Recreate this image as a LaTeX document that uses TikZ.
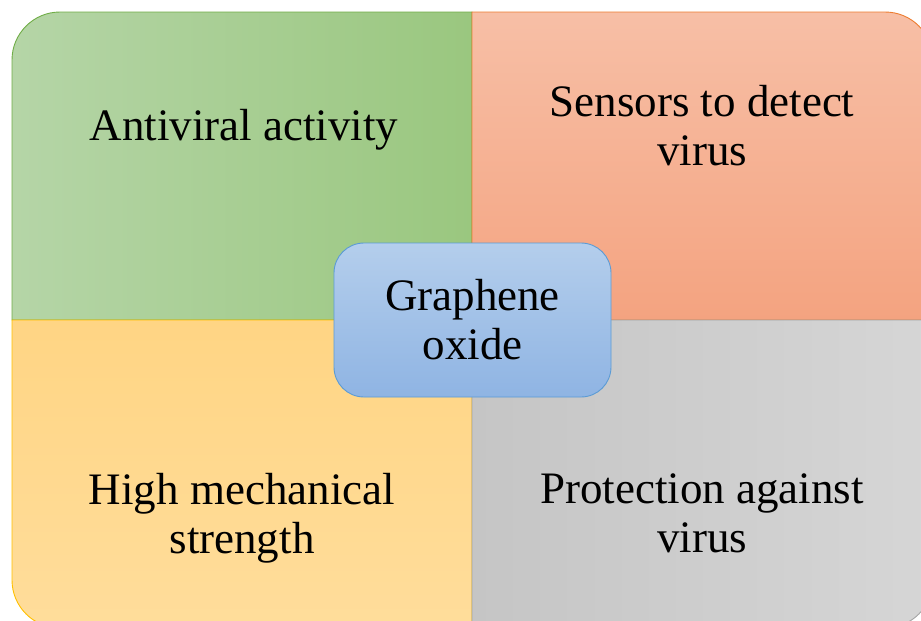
\documentclass[tikz,border=0pt]{standalone}
\usepackage{fontspec}
\setmainfont{Liberation Serif}
\definecolor{gA}{RGB}{181,213,167}
\definecolor{gB}{RGB}{154,199,127}
\definecolor{gD}{RGB}{112,173,71}
\definecolor{oA}{RGB}{247,191,166}
\definecolor{oB}{RGB}{244,163,128}
\definecolor{oD}{RGB}{237,125,49}
\definecolor{yA}{RGB}{255,213,132}
\definecolor{yB}{RGB}{255,221,155}
\definecolor{yD}{RGB}{255,192,0}
\definecolor{sA}{RGB}{197,197,197}
\definecolor{sB}{RGB}{214,214,214}
\definecolor{sD}{RGB}{165,165,165}
\definecolor{bA}{RGB}{180,206,236}
\definecolor{bB}{RGB}{143,180,227}
\definecolor{bD}{RGB}{91,155,213}
\begin{document}
\begin{tikzpicture}[x=1pt,y=1pt,
  lbl/.style={font=\fontsize{45}{49}\selectfont, align=center, inner sep=0pt, text=black},
  quad/.style={line width=0.9pt},
  centerbox/.style={lbl, draw=bD, line width=0.9pt, top color=bA, bottom color=bB,
    rounded corners=30pt, minimum width=277pt, minimum height=154pt}]
\useasboundingbox (0,0) rectangle (921,-621);
\clip (0,0) rectangle (921,-621);
% quadrants
\path[quad, draw=gD, left color=gA, right color=gB]
  (472,-320) -- (12,-320) -- (12,-60) arc[start angle=180,end angle=90,radius=48] -- (472,-12) -- cycle;
\path[quad, draw=oD, top color=oA, bottom color=oB]
  (472,-12) -- (885,-12) arc[start angle=90,end angle=0,radius=48] -- (933,-320) -- (472,-320) -- cycle;
\path[quad, draw=yD, top color=yA, bottom color=yB]
  (472,-628) -- (60,-628) arc[start angle=270,end angle=180,radius=48] -- (12,-320) -- (472,-320) -- cycle;
\path[quad, draw=sD, left color=sA, right color=sB]
  (472,-320) -- (933,-320) -- (933,-580) arc[start angle=0,end angle=-90,radius=48] -- (472,-628) -- cycle;
% labels
\node[lbl, anchor=base] (anti) at (244,-140) {Antiviral activity};
\node[lbl] (sens) at (702,-126) {Sensors to detect\\virus};
\node[lbl] (mech) at (242,-518) {High mechanical\\strength};
\node[lbl] (prot) at (702,-513) {Protection against\\virus};
\node[centerbox] (go) at (472.5,-320) {Graphene\\oxide};
\end{tikzpicture}
\end{document}
